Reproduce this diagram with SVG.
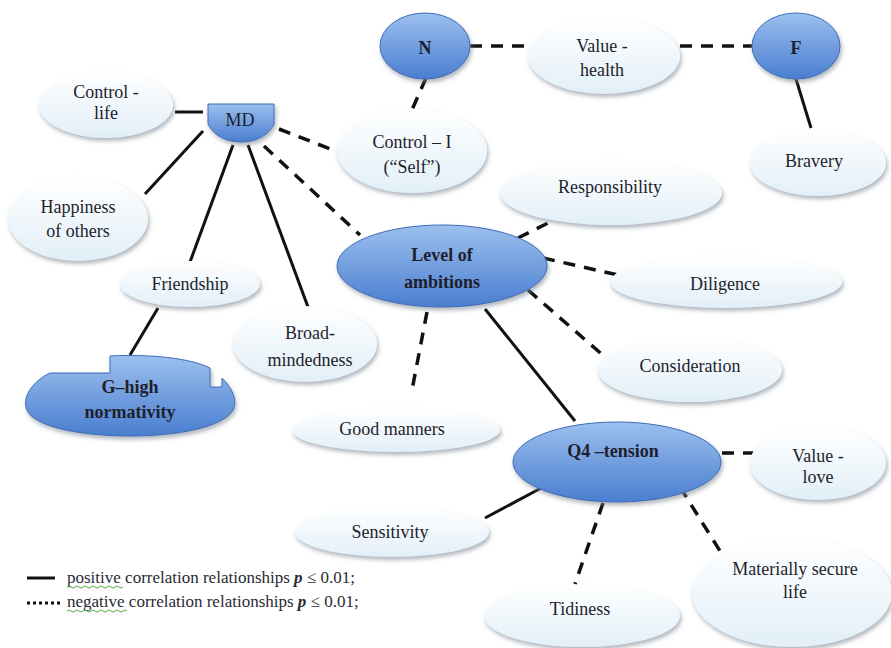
<svg xmlns="http://www.w3.org/2000/svg" width="891" height="648" viewBox="0 0 891 648" font-family="'Liberation Serif', 'Times New Roman', serif">
<defs>
  <linearGradient id="light" x1="0" y1="0" x2="0" y2="1">
    <stop offset="0" stop-color="#ffffff"/>
    <stop offset="1" stop-color="#e2eff8"/>
  </linearGradient>
  <linearGradient id="blue" x1="0" y1="0" x2="0" y2="1">
    <stop offset="0" stop-color="#9cc0ee"/>
    <stop offset="1" stop-color="#4a7ed0"/>
  </linearGradient>
  <filter id="sh" x="-20%" y="-20%" width="140%" height="150%">
    <feDropShadow dx="1.5" dy="3" stdDeviation="2" flood-color="#7a8590" flood-opacity="0.6"/>
  </filter>
</defs>
<style>
  .lt { fill: url(#light); filter: url(#sh); }
  .bl { fill: url(#blue); stroke: #3d6cb8; stroke-width: 1; filter: url(#sh); }
  text { font-family: "Liberation Serif", "Times New Roman", serif; }
  .t { font-size: 18px; fill: #1e1e2c; text-anchor: middle; }
  .b { font-weight: bold; }
  .pos { stroke: #111; stroke-width: 3; fill: none; }
  .neg { stroke: #111; stroke-width: 3.5; fill: none; stroke-dasharray: 12 9; }
  .lg { font-size: 17px; fill: #2a2a35; }
  .sq { stroke: #5aa84a; stroke-width: 1; fill: none; }
</style>

<g id="connectors">
  <line class="neg" x1="470" y1="46" x2="530" y2="46"/>
  <line class="neg" x1="680" y1="46" x2="752" y2="46"/>
  <line class="neg" x1="426" y1="78" x2="411" y2="112"/>
  <line class="pos" x1="796" y1="79" x2="811" y2="128"/>
  <line class="pos" x1="175" y1="112" x2="203" y2="112"/>
  <line class="pos" x1="203" y1="131" x2="145" y2="194"/>
  <line class="pos" x1="233" y1="145" x2="190" y2="262"/>
  <line class="pos" x1="248" y1="145" x2="308" y2="307"/>
  <line class="neg" x1="279" y1="129" x2="338" y2="152"/>
  <line class="neg" x1="264" y1="146" x2="360" y2="235"/>
  <line class="pos" x1="158" y1="308" x2="130" y2="355"/>
  <line class="neg" x1="518" y1="238" x2="548" y2="223"/>
  <line class="neg" x1="543" y1="258" x2="618" y2="275"/>
  <line class="neg" x1="528" y1="290" x2="605" y2="357"/>
  <line class="neg" x1="427" y1="312" x2="412" y2="390"/>
  <line class="pos" x1="485" y1="309" x2="575" y2="421"/>
  <line class="neg" x1="722" y1="453" x2="760" y2="453"/>
  <line class="pos" x1="543" y1="487" x2="485" y2="518"/>
  <line class="neg" x1="603" y1="503" x2="575" y2="584"/>
  <line class="neg" x1="680" y1="487" x2="720" y2="551"/>
</g>

<g id="N">
  <ellipse class="bl" cx="425" cy="46" rx="45" ry="33"/>
  <text class="t b" x="425" y="54" font-size="23">N</text>
</g>
<g id="value-health">
  <ellipse class="lt" cx="604" cy="56" rx="76" ry="38"/>
  <text class="t" x="602" y="52">Value -</text>
  <text class="t" x="602" y="76">health</text>
</g>
<g id="F">
  <ellipse class="bl" cx="796" cy="46" rx="44" ry="33"/>
  <text class="t b" x="796" y="54" font-size="23">F</text>
</g>
<g id="bravery">
  <ellipse class="lt" cx="818" cy="163" rx="68" ry="33"/>
  <text class="t" x="814" y="167">Bravery</text>
</g>
<g id="control-I">
  <ellipse class="lt" cx="412" cy="151" rx="75" ry="42"/>
  <text class="t" x="412" y="148">Control – I</text>
  <text class="t" x="412" y="173">(“Self”)</text>
</g>
<g id="control-life">
  <ellipse class="lt" cx="106" cy="105" rx="67" ry="33"/>
  <text class="t" x="106" y="98">Control -</text>
  <text class="t" x="106" y="119">life</text>
</g>
<g id="MD">
  <path class="bl" d="M208,104 H274 V124 C268,136 255,142 241,142 C227,142 214,136 208,124 Z"/>
  <text class="t" x="240" y="126">MD</text>
</g>
<g id="happiness">
  <ellipse class="lt" cx="78" cy="219" rx="70" ry="42"/>
  <text class="t" x="78" y="213">Happiness</text>
  <text class="t" x="78" y="237">of others</text>
</g>
<g id="friendship">
  <ellipse class="lt" cx="190" cy="284" rx="70" ry="23"/>
  <text class="t" x="190" y="290">Friendship</text>
</g>
<g id="G">
  <path class="bl" d="M50,373 H110 V356 C150,354 190,358 210,368 V387 H222 V378 C232,388 238,400 233,410 C222,428 175,436 130,436 C85,436 38,428 28,412 C20,398 33,381 50,373 Z"/>
  <text class="t b" x="130" y="393">G–high</text>
  <text class="t b" x="130" y="418">normativity</text>
</g>
<g id="broad">
  <ellipse class="lt" cx="305" cy="344" rx="72" ry="38"/>
  <text class="t" x="310" y="339">Broad-</text>
  <text class="t" x="310" y="366">mindedness</text>
</g>
<g id="level">
  <ellipse class="bl" cx="442" cy="266" rx="105" ry="41"/>
  <text class="t b" x="442" y="261">Level of</text>
  <text class="t b" x="442" y="288">ambitions</text>
</g>
<g id="responsibility">
  <ellipse class="lt" cx="611" cy="193" rx="111" ry="32"/>
  <text class="t" x="610" y="193">Responsibility</text>
</g>
<g id="diligence">
  <ellipse class="lt" cx="726" cy="282" rx="116" ry="26"/>
  <text class="t" x="725" y="290">Diligence</text>
</g>
<g id="consideration">
  <ellipse class="lt" cx="690" cy="370" rx="92" ry="32"/>
  <text class="t" x="690" y="372">Consideration</text>
</g>
<g id="good-manners">
  <ellipse class="lt" cx="396" cy="430" rx="104" ry="22"/>
  <text class="t" x="392" y="435">Good manners</text>
</g>
<g id="Q4">
  <ellipse class="bl" cx="617" cy="462" rx="104" ry="40"/>
  <text class="t b" x="613" y="457">Q4 –tension</text>
</g>
<g id="value-love">
  <ellipse class="lt" cx="818" cy="463" rx="68" ry="37"/>
  <text class="t" x="818" y="462">Value -</text>
  <text class="t" x="818" y="483">love</text>
</g>
<g id="sensitivity">
  <ellipse class="lt" cx="392" cy="532" rx="97" ry="25"/>
  <text class="t" x="390" y="538">Sensitivity</text>
</g>
<g id="tidiness">
  <ellipse class="lt" cx="582" cy="616" rx="98" ry="31"/>
  <text class="t" x="580" y="615">Tidiness</text>
</g>
<g id="materially">
  <ellipse class="lt" cx="792" cy="593" rx="100" ry="54"/>
  <text class="t" x="795" y="575">Materially secure</text>
  <text class="t" x="795" y="598">life</text>
</g>

<g id="legend">
  <line x1="27" y1="578" x2="55" y2="578" stroke="#111" stroke-width="3"/>
  <text class="lg" x="67" y="583">positive correlation relationships <tspan font-weight="bold" font-style="italic">p</tspan> ≤ 0.01;</text>
  <path class="sq" d="M67,587 q2,-2 4,0 t4,0 t4,0 t4,0 t4,0 t4,0 t4,0 t4,0 t4,0 t4,0 t4,0 t4,0 t4,0 t4,0"/>
  <line x1="27" y1="603" x2="60" y2="603" stroke="#111" stroke-width="3" stroke-dasharray="3 3"/>
  <text class="lg" x="67" y="607">negative correlation relationships <tspan font-weight="bold" font-style="italic">p</tspan> ≤ 0.01;</text>
  <path class="sq" d="M67,611 q2,-2 4,0 t4,0 t4,0 t4,0 t4,0 t4,0 t4,0 t4,0 t4,0 t4,0 t4,0 t4,0 t4,0 t4,0 t4,0"/>
</g>
</svg>
